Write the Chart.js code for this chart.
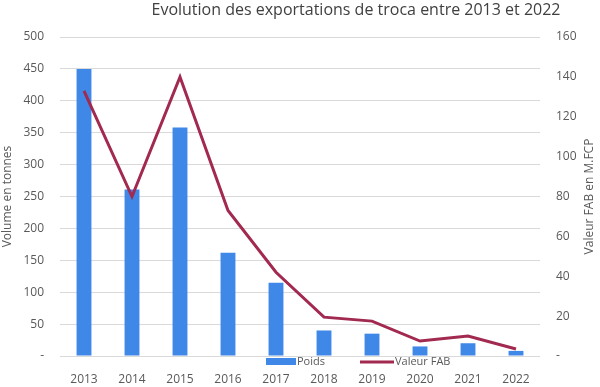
<!DOCTYPE html>
<html>
<head>
<meta charset="utf-8">
<script src="https://cdn.jsdelivr.net/npm/chart.js@4"></script>
<style>
  html, body { margin: 0; padding: 0; background: #fff; }
  #wrap { width: 600px; height: 387px; }
</style>
</head>
<body>
<div id="wrap"><canvas id="graphique"></canvas></div>
<script>
// Données
const annees = ['2013', '2014', '2015', '2016', '2017', '2018', '2019', '2020', '2021', '2022'];
const poids = [450, 261, 358, 162, 115, 40, 35, 15, 20, 8];
const valeurFab = [133, 80, 140, 73, 42, 19.5, 17.5, 7.5, 10, 3.5];

const titre = 'Evolution des exportations de troca entre 2013 et 2022';
const titreDroite = 'Valeur FAB en M.FCP';
const couleurBarre = '#3f88e8';
const couleurLigne = '#a2294f';
const couleurTexte = '#595959';
const police = "'Open Sans', 'Liberation Sans', sans-serif";

// Titre, titre d'axe droit et légende dessinés à la main
const decor = {
    id: 'decor',
    afterDraw(chart) {
        const ctx = chart.ctx;
        const zone = chart.chartArea;
        ctx.save();
        ctx.fillStyle = '#404040';
        ctx.font = '16px ' + police;
        ctx.textAlign = 'center';
        ctx.textBaseline = 'middle';
        ctx.fillText(titre, 356, 10);

        // titre de l'axe droit, lu de bas en haut
        ctx.save();
        ctx.fillStyle = couleurTexte;
        ctx.font = '12px ' + police;
        ctx.translate(590, (zone.top + zone.bottom) / 2);
        ctx.rotate(-Math.PI / 2);
        ctx.fillText(titreDroite, 0, 0);
        ctx.restore();

        ctx.font = '11px ' + police;
        ctx.textAlign = 'left';
        ctx.fillStyle = couleurBarre;
        ctx.fillRect(266, 358, 30, 7);
        ctx.fillStyle = couleurTexte;
        ctx.fillText(chart.data.datasets[0].label, 297, 362);
        ctx.strokeStyle = couleurLigne;
        ctx.lineWidth = 3;
        ctx.beginPath();
        ctx.moveTo(360, 362);
        ctx.lineTo(394, 362);
        ctx.stroke();
        ctx.fillText(chart.data.datasets[1].label, 395, 362);
        ctx.restore();
    }
};

const ctx = document.getElementById('graphique').getContext('2d');
new Chart(ctx, {
    type: 'bar',
    data: {
        labels: annees,
        datasets: [{
            label: 'Poids',
            data: poids,
            yAxisID: 'y',
            backgroundColor: couleurBarre,
            barPercentage: 0.62,
            categoryPercentage: 0.5,
            order: 1
        }, {
            label: 'Valeur FAB',
            type: 'line',
            data: valeurFab,
            yAxisID: 'y2',
            borderColor: couleurLigne,
            backgroundColor: couleurLigne,
            borderWidth: 3,
            pointRadius: 0,
            tension: 0,
            order: 0
        }]
    },
    options: {
        responsive: true,
        maintainAspectRatio: false,
        animation: false,
        layout: { padding: { top: 37, right: 0, left: 0, bottom: 3 } },
        plugins: {
            legend: { display: false },
            tooltip: { enabled: false }
        },
        scales: {
            x: {
                grid: { display: false },
                border: { display: false },
                ticks: { color: couleurTexte, font: { family: police, size: 12 }, padding: 8 },
                afterFit: s => { s.height = 28; }
            },
            y: {
                position: 'left',
                min: 0, max: 500,
                ticks: {
                    stepSize: 50,
                    color: couleurTexte,
                    font: { family: police, size: 12 },
                    padding: 16,
                    callback: v => v === 0 ? '-' : v
                },
                grid: { color: '#d9d9d9', lineWidth: 1, drawTicks: false },
                border: { display: false },
                title: { display: true, text: 'Volume en tonnes', color: couleurTexte, font: { family: police, size: 12 }, padding: 0 },
                afterFit: s => { s.width = 60; }
            },
            y2: {
                position: 'right',
                min: 0, max: 160,
                ticks: {
                    stepSize: 20,
                    color: couleurTexte,
                    font: { family: police, size: 12 },
                    padding: 16,
                    callback: v => v === 0 ? '-' : v
                },
                grid: { display: false, drawTicks: false },
                border: { display: false },
                afterFit: s => { s.width = 60; }
            }
        }
    },
    plugins: [decor]
});
</script>
</body>
</html>
